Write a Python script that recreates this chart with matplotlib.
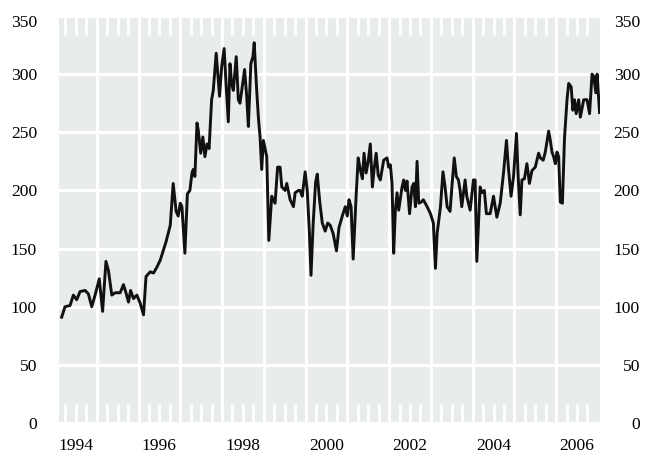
import matplotlib
matplotlib.use('Agg')
import matplotlib.pyplot as plt
import matplotlib.transforms as mtransforms
import numpy as np

# decimal-year dates and index values
dates = [
    1994.16, 1994.24, 1994.36, 1994.44, 1994.52, 1994.60, 1994.72, 1994.80, 1994.88, 1994.96,
    1995.06, 1995.14, 1995.22, 1995.28, 1995.36, 1995.44, 1995.56, 1995.64, 1995.70, 1995.76,
    1995.81, 1995.88, 1995.96, 1996.04, 1996.12, 1996.18, 1996.28, 1996.36, 1996.44, 1996.52,
    1996.60, 1996.66, 1996.76, 1996.83, 1996.90, 1996.95, 1997.00, 1997.04, 1997.11, 1997.17,
    1997.23, 1997.28, 1997.31, 1997.35, 1997.40, 1997.43, 1997.49, 1997.54, 1997.59, 1997.64,
    1997.69, 1997.75, 1997.79, 1997.86, 1997.89, 1997.94, 1997.99, 1998.05, 1998.10, 1998.15,
    1998.19, 1998.23, 1998.27, 1998.34, 1998.39, 1998.43, 1998.54, 1998.59, 1998.63, 1998.69,
    1998.74, 1998.77, 1998.83, 1998.87, 1998.91, 1998.95, 1998.99, 1999.07, 1999.12, 1999.19,
    1999.27, 1999.33, 1999.39, 1999.43, 1999.51, 1999.55, 1999.63, 1999.71, 1999.75, 1999.83,
    1999.87, 1999.92, 1999.99, 2000.04, 2000.09, 2000.13, 2000.18, 2000.24, 2000.28, 2000.34,
    2000.40, 2000.47, 2000.53, 2000.59, 2000.66, 2000.74, 2000.80, 2000.88, 2000.95, 2001.00,
    2001.04, 2001.09, 2001.14, 2001.21, 2001.26, 2001.31, 2001.36, 2001.40, 2001.45, 2001.50,
    2001.55, 2001.60, 2001.64, 2001.69, 2001.74, 2001.79, 2001.87, 2001.95, 2001.99, 2002.03,
    2002.07, 2002.11, 2002.15, 2002.19, 2002.23, 2002.31, 2002.35, 2002.39, 2002.43, 2002.49,
    2002.55, 2002.59, 2002.63, 2002.67, 2002.71, 2002.77, 2002.82, 2002.91, 2002.99, 2003.06,
    2003.11, 2003.15, 2003.23, 2003.29, 2003.34, 2003.39, 2003.46, 2003.51, 2003.56, 2003.61,
    2003.66, 2003.70, 2003.74, 2003.82, 2003.86, 2003.94, 2004.02, 2004.06, 2004.10, 2004.18,
    2004.22, 2004.28, 2004.33, 2004.42, 2004.50, 2004.58, 2004.66, 2004.74, 2004.81, 2004.86,
    2004.92, 2004.98, 2005.05, 2005.09, 2005.14, 2005.18, 2005.24, 2005.30, 2005.36, 2005.42,
    2005.50, 2005.58, 2005.62, 2005.69, 2005.74, 2005.82, 2005.86, 2005.90, 2005.94, 2005.98,
    2006.02, 2006.06, 2006.10, 2006.15, 2006.20, 2006.26, 2006.30, 2006.36, 2006.40, 2006.44,
    2006.48, 2006.54, 2006.58, 2006.66, 2006.74, 2006.80, 2006.86, 2006.90, 2006.95, 2006.98,
    2007.04,
]
values = [
    91, 100, 101, 110, 106, 113, 114, 111, 100, 110,
    124, 96, 139, 131, 110, 112, 112, 119, 112, 104,
    114, 107, 110, 103, 93, 126, 130, 129, 134, 140,
    149, 156, 170, 206, 182, 178, 189, 186, 146, 197,
    200, 215, 218, 212, 258, 252, 232, 246, 229, 240,
    236, 278, 286, 318, 304, 281, 306, 322, 289, 259,
    309, 292, 286, 315, 278, 275, 304, 281, 255, 309,
    315, 327, 286, 263, 246, 218, 243, 229, 157, 195,
    189, 220, 220, 203, 200, 206, 192, 186, 198, 200,
    200, 195, 216, 200, 165, 127, 170, 207, 214, 190,
    172, 165, 172, 170, 163, 148, 168, 178, 186, 178,
    192, 186, 141, 195, 228, 218, 210, 232, 215, 225,
    240, 203, 218, 232, 213, 209, 226, 228, 220, 222,
    206, 146, 183, 198, 183, 203, 209, 200, 208, 180,
    203, 206, 186, 225, 189, 190, 192, 186, 180, 172,
    133, 163, 186, 216, 203, 186, 182, 206, 228, 212,
    209, 200, 186, 209, 195, 183, 209, 209, 139, 203,
    198, 200, 180, 180, 195, 177, 189, 215, 243, 218,
    195, 212, 249, 212, 179, 209, 210, 223, 206, 217,
    220, 232, 228, 226, 233, 251, 243, 233, 229, 223,
    233, 229, 190, 189, 245, 278, 292, 289, 269, 278,
    266, 278, 263, 278, 278, 266, 300, 298, 284, 300,
    267,
]

year_labels = ['1994', '1996', '1998', '2000', '2002', '2004', '2006']
label_years = [1994, 1996, 1998, 2000, 2002, 2004, 2006]
y_ticks = [0, 50, 100, 150, 200, 250, 300, 350]
first_year, last_year = 1994, 2007

plt.rcParams['font.family'] = ['Liberation Serif', 'DejaVu Serif']
fs = 12.6

fig = plt.figure(figsize=(6.5, 4.54), dpi=100)
fig.patch.set_facecolor('white')
ax = fig.add_axes([59 / 650, 31 / 454, 541 / 650, 407 / 454])
ax.set_facecolor('#e9ecec')
for s in ax.spines.values():
    s.set_visible(False)

ax.set_xlim(1994.096, 2007.05)
ax.set_ylim(0, 350)

# year gridlines (minor) and quarterly white ticks (major)
year_starts = np.arange(first_year + 1, last_year)
quarters = [y + q for y in range(first_year, last_year) for q in (0.25, 0.5, 0.75)]
ax.set_xticks(quarters)
ax.set_xticks(year_starts, minor=True)
ax.tick_params(axis='x', which='major', direction='in', length=14, width=2.1,
               color='white', top=True, bottom=True, labelbottom=False, labeltop=False)
ax.tick_params(axis='x', which='minor', length=0)
ax.grid(axis='x', which='minor', color='white', lw=2.3)

ax.set_yticks(y_ticks)
ax.grid(axis='y', which='major', color='white', lw=2.3)
ax.tick_params(axis='y', which='both', left=False, right=False,
               labelleft=False, labelright=False)

ax.plot(dates, values, color='#111111', lw=2.1, zorder=3)

# value labels on both sides, right-aligned, placed through the y scale
ytrans = ax.get_yaxis_transform()
for v in y_ticks:
    dy = -5 / 100 if v == max(y_ticks) else 0
    left = ytrans + mtransforms.ScaledTranslation(-22 / 100, dy, fig.dpi_scale_trans)
    right = ytrans + mtransforms.ScaledTranslation(40 / 100, dy, fig.dpi_scale_trans)
    ax.text(0, v, str(v), transform=left, ha='right', va='center_baseline', fontsize=fs)
    ax.text(1, v, str(v), transform=right, ha='right', va='center_baseline', fontsize=fs)

# year labels centred mid-year
sec = ax.secondary_xaxis('bottom')
sec.set_xticks([y + 0.5 for y in label_years], labels=year_labels)
sec.tick_params(length=0, pad=11, labelsize=fs)
for s in sec.spines.values():
    s.set_visible(False)

fig.savefig('out.png', dpi=100)
